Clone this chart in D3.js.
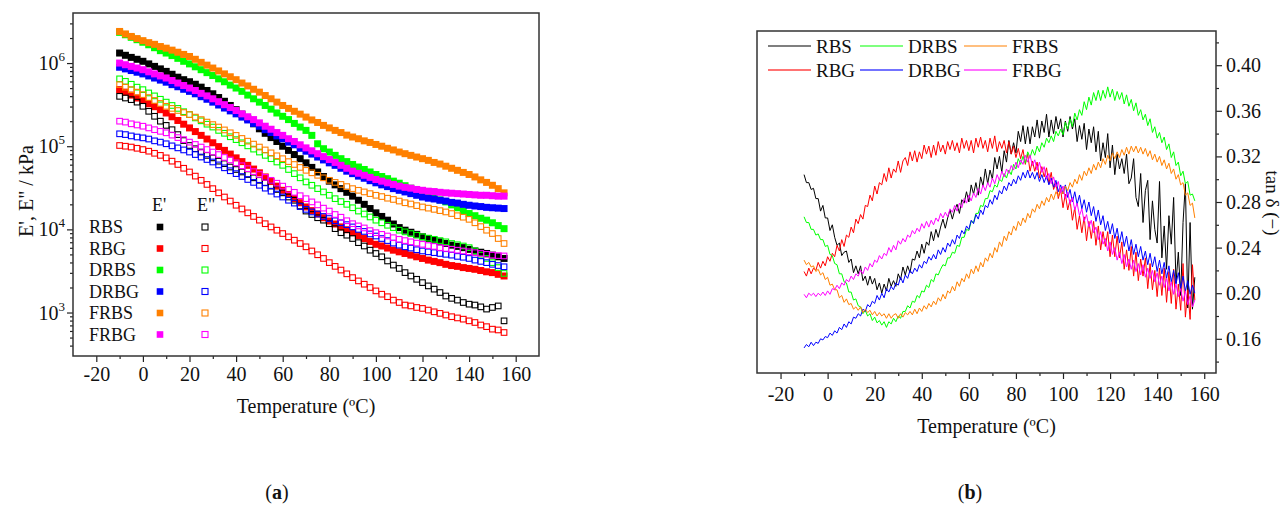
<!DOCTYPE html>
<html>
<head>
<meta charset="utf-8">
<script src="https://cdn.jsdelivr.net/npm/d3@7"></script>
<style>
body { margin: 0; background: #fff; }
svg text { font-family: "Liberation Serif", "Times New Roman", serif; fill: #111; }
</style>
</head>
<body>
<svg id="fig" width="1284" height="506"></svg>
<script>
// ---------- data: panel (a), storage / loss modulus in kPa ----------
const tempA = [-10,-7.5,-5,-2.5,0,2.5,5,7.5,10,12.5,15,17.5,20,22.5,25,27.5,30,32.5,35,37.5,40,42.5,45,47.5,50,52.5,55,57.5,60,62.5,65,67.5,70,72.5,75,77.5,80,82.5,85,87.5,90,92.5,95,97.5,100,102.5,105,107.5,110,112.5,115,117.5,120,122.5,125,127.5,130,132.5,135,137.5,140,142.5,145,147.5,150,152.5,155];

const RBS_E1 = [1.32e6,1.24e6,1.17e6,1.11e6,1.05e6,9.77e5,9.12e5,8.51e5,7.94e5,7.33e5,6.76e5,6.31e5,5.96e5,5.56e5,5.13e5,4.68e5,4.27e5,3.85e5,3.47e5,3.09e5,2.75e5,2.43e5,2.14e5,1.86e5,1.62e5,1.43e5,1.27e5,1.14e5,1.00e5,8.91e4,7.94e4,7.08e4,6.31e4,5.56e4,4.90e4,4.32e4,3.80e4,3.43e4,3.09e4,2.79e4,2.51e4,2.24e4,2.00e4,1.78e4,1.58e4,1.43e4,1.29e4,1.16e4,1.05e4,9.77e3,9.23e3,8.71e3,8.13e3,7.76e3,7.41e3,7.08e3,6.76e3,6.46e3,6.24e3,6.03e3,5.75e3,5.50e3,5.31e3,5.13e3,4.90e3,4.68e3,4.47e3];
const RBS_E2 = [3.98e5,3.80e5,3.63e5,3.39e5,3.02e5,2.63e5,2.29e5,2.00e5,1.78e5,1.58e5,1.38e5,1.17e5,1.02e5,9.33e4,8.51e4,7.76e4,7.24e4,6.61e4,6.17e4,5.62e4,5.25e4,4.90e4,4.57e4,4.17e4,3.89e4,3.63e4,3.31e4,3.02e4,2.75e4,2.45e4,2.24e4,1.91e4,1.66e4,1.51e4,1.38e4,1.29e4,1.17e4,1.02e4,9.12e3,8.51e3,7.76e3,6.92e3,6.31e3,5.62e3,5.13e3,4.68e3,4.17e3,3.72e3,3.39e3,3.02e3,2.75e3,2.51e3,2.29e3,2.09e3,1.91e3,1.74e3,1.58e3,1.48e3,1.41e3,1.32e3,1.26e3,1.23e3,1.17e3,1.10e3,1.15e3,1.20e3,794];
const RBG_E1 = [4.79e5,4.47e5,4.12e5,3.80e5,3.55e5,3.24e5,2.99e5,2.75e5,2.51e5,2.26e5,2.04e5,1.84e5,1.66e5,1.50e5,1.35e5,1.22e5,1.10e5,9.89e4,8.91e4,8.04e4,7.24e4,6.53e4,5.89e4,5.31e4,4.79e4,4.27e4,3.76e4,3.31e4,2.95e4,2.63e4,2.34e4,2.09e4,1.86e4,1.68e4,1.53e4,1.38e4,1.26e4,1.16e4,1.07e4,9.89e3,9.12e3,8.41e3,7.76e3,7.16e3,6.61e3,6.31e3,5.96e3,5.62e3,5.37e3,5.13e3,4.90e3,4.68e3,4.47e3,4.27e3,4.12e3,3.98e3,3.80e3,3.67e3,3.59e3,3.47e3,3.39e3,3.31e3,3.20e3,3.09e3,3.02e3,2.88e3,2.75e3];
const RBG_E2 = [1.02e5,1.00e5,9.77e4,9.44e4,9.12e4,8.71e4,8.22e4,7.76e4,7.24e4,6.61e4,6.03e4,5.43e4,4.90e4,4.37e4,3.89e4,3.47e4,3.09e4,2.75e4,2.45e4,2.19e4,1.95e4,1.76e4,1.58e4,1.43e4,1.29e4,1.17e4,1.07e4,9.77e3,8.91e3,8.13e3,7.41e3,6.76e3,6.17e3,5.50e3,4.95e3,4.47e3,3.98e3,3.59e3,3.24e3,2.92e3,2.63e3,2.40e3,2.19e3,2.00e3,1.82e3,1.66e3,1.55e3,1.41e3,1.32e3,1.23e3,1.20e3,1.15e3,1.12e3,1.07e3,1.02e3,977,933,891,861,832,794,759,708,676,631,617,575];
const DRBS_E1 = [2.34e6,2.19e6,2.04e6,1.91e6,1.78e6,1.66e6,1.53e6,1.41e6,1.32e6,1.23e6,1.14e6,1.05e6,9.77e5,9.02e5,8.32e5,7.67e5,7.08e5,6.46e5,5.96e5,5.43e5,5.01e5,4.57e5,4.12e5,3.72e5,3.39e5,3.09e5,2.79e5,2.51e5,2.29e5,2.09e5,1.88e5,1.70e5,1.55e5,1.35e5,1.07e5,9.33e4,8.51e4,7.76e4,7.08e4,6.53e4,6.03e4,5.62e4,5.25e4,4.90e4,4.57e4,4.32e4,4.07e4,3.80e4,3.59e4,3.35e4,3.13e4,2.95e4,2.75e4,2.57e4,2.43e4,2.26e4,2.14e4,1.97e4,1.82e4,1.68e4,1.55e4,1.46e4,1.36e4,1.29e4,1.20e4,1.11e4,1.02e4];
const DRBS_E2 = [6.46e5,6.03e5,5.56e5,5.13e5,4.79e5,4.37e5,4.03e5,3.67e5,3.39e5,3.09e5,2.85e5,2.60e5,2.40e5,2.19e5,2.02e5,1.84e5,1.70e5,1.55e5,1.43e5,1.30e5,1.20e5,1.10e5,1.01e5,9.23e4,8.51e4,7.76e4,7.08e4,6.46e4,5.89e4,5.25e4,4.68e4,4.17e4,3.72e4,3.39e4,3.09e4,2.82e4,2.57e4,2.34e4,2.16e4,2.00e4,1.82e4,1.66e4,1.53e4,1.41e4,1.29e4,1.20e4,1.12e4,1.05e4,9.77e3,9.33e3,8.91e3,8.51e3,8.13e3,7.85e3,7.59e3,7.33e3,7.08e3,6.76e3,6.53e3,6.31e3,6.03e3,5.50e3,4.90e3,4.47e3,3.98e3,3.47e3,2.95e3];
const DRBG_E1 = [8.91e5,8.51e5,8.13e5,7.76e5,7.41e5,7.00e5,6.61e5,6.24e5,5.89e5,5.50e5,5.19e5,4.84e5,4.57e5,4.27e5,3.94e5,3.67e5,3.39e5,3.13e5,2.88e5,2.66e5,2.45e5,2.24e5,2.07e5,1.88e5,1.74e5,1.58e5,1.46e5,1.33e5,1.23e5,1.12e5,1.04e5,9.44e4,8.71e4,8.04e4,7.41e4,6.84e4,6.31e4,5.89e4,5.43e4,5.01e4,4.68e4,4.37e4,4.12e4,3.85e4,3.63e4,3.43e4,3.27e4,3.09e4,2.95e4,2.82e4,2.69e4,2.57e4,2.45e4,2.37e4,2.32e4,2.24e4,2.19e4,2.11e4,2.07e4,2.00e4,1.95e4,1.91e4,1.88e4,1.84e4,1.82e4,1.80e4,1.78e4];
const DRBG_E2 = [1.41e5,1.38e5,1.33e5,1.29e5,1.26e5,1.22e5,1.16e5,1.12e5,1.07e5,1.01e5,9.55e4,9.02e4,8.51e4,7.94e4,7.41e4,6.92e4,6.46e4,5.96e4,5.50e4,5.07e4,4.68e4,4.32e4,3.98e4,3.67e4,3.39e4,3.13e4,2.88e4,2.66e4,2.45e4,2.24e4,2.07e4,1.88e4,1.74e4,1.62e4,1.53e4,1.43e4,1.35e4,1.27e4,1.20e4,1.14e4,1.07e4,1.00e4,9.44e3,8.81e3,8.32e3,7.76e3,7.33e3,6.84e3,6.46e3,6.17e3,5.96e3,5.69e3,5.50e3,5.37e3,5.25e3,5.13e3,5.01e3,4.90e3,4.73e3,4.62e3,4.47e3,4.27e3,4.12e3,3.98e3,3.80e3,3.67e3,3.55e3];
const FRBS_E1 = [2.40e6,2.24e6,2.09e6,1.97e6,1.86e6,1.76e6,1.68e6,1.58e6,1.51e6,1.43e6,1.35e6,1.27e6,1.20e6,1.11e6,1.02e6,9.44e5,8.71e5,8.04e5,7.41e5,6.84e5,6.31e5,5.75e5,5.31e5,4.84e5,4.47e5,4.07e5,3.72e5,3.39e5,3.09e5,2.85e5,2.63e5,2.43e5,2.24e5,2.07e5,1.93e5,1.78e5,1.66e5,1.55e5,1.46e5,1.36e5,1.29e5,1.23e5,1.16e5,1.11e5,1.05e5,1.00e5,9.44e4,9.02e4,8.51e4,8.13e4,7.76e4,7.41e4,7.08e4,6.76e4,6.38e4,6.10e4,5.75e4,5.43e4,5.13e4,4.84e4,4.57e4,4.27e4,3.94e4,3.67e4,3.39e4,3.09e4,2.75e4];
const FRBS_E2 = [5.50e5,5.13e5,4.79e5,4.47e5,4.17e5,3.85e5,3.55e5,3.27e5,3.02e5,2.85e5,2.69e5,2.54e5,2.40e5,2.24e5,2.09e5,1.95e5,1.82e5,1.70e5,1.57e5,1.45e5,1.35e5,1.24e5,1.15e5,1.06e5,9.77e4,9.02e4,8.32e4,7.67e4,7.08e4,6.53e4,6.03e4,5.56e4,5.13e4,4.79e4,4.47e4,4.17e4,3.89e4,3.67e4,3.47e4,3.27e4,3.09e4,2.95e4,2.82e4,2.69e4,2.57e4,2.48e4,2.37e4,2.29e4,2.19e4,2.09e4,2.02e4,1.93e4,1.86e4,1.80e4,1.74e4,1.68e4,1.62e4,1.55e4,1.46e4,1.40e4,1.32e4,1.20e4,1.08e4,9.77e3,8.91e3,7.76e3,6.76e3];
const FRBG_E1 = [1.00e6,9.55e5,9.12e5,8.71e5,8.32e5,7.85e5,7.41e5,7.00e5,6.61e5,6.17e5,5.75e5,5.37e5,5.01e5,4.68e5,4.32e5,4.03e5,3.72e5,3.43e5,3.16e5,2.92e5,2.69e5,2.45e5,2.26e5,2.09e5,1.91e5,1.74e5,1.60e5,1.46e5,1.35e5,1.23e5,1.14e5,1.04e5,9.55e4,8.81e4,8.13e4,7.50e4,6.92e4,6.38e4,5.89e4,5.43e4,5.01e4,4.73e4,4.47e4,4.22e4,3.98e4,3.80e4,3.63e4,3.47e4,3.31e4,3.20e4,3.13e4,3.02e4,2.95e4,2.88e4,2.85e4,2.79e4,2.75e4,2.72e4,2.69e4,2.66e4,2.63e4,2.60e4,2.57e4,2.57e4,2.54e4,2.51e4,2.51e4];
const FRBG_E2 = [2.00e5,1.95e5,1.86e5,1.80e5,1.74e5,1.66e5,1.58e5,1.51e5,1.45e5,1.36e5,1.27e5,1.20e5,1.12e5,1.05e5,9.77e4,9.12e4,8.51e4,7.94e4,7.33e4,6.84e4,6.31e4,5.82e4,5.37e4,4.95e4,4.57e4,4.22e4,3.89e4,3.59e4,3.31e4,3.02e4,2.79e4,2.54e4,2.34e4,2.14e4,1.97e4,1.80e4,1.66e4,1.51e4,1.40e4,1.27e4,1.17e4,1.10e4,1.04e4,9.66e3,9.12e3,8.71e3,8.32e3,7.94e3,7.59e3,7.33e3,7.08e3,6.84e3,6.61e3,6.38e3,6.24e3,6.03e3,5.89e3,5.75e3,5.62e3,5.50e3,5.37e3,5.25e3,5.13e3,5.01e3,4.90e3,4.84e3,4.79e3];

// ---------- data: panel (b), tan delta ----------
const tempB = [-10,-9,-8,-7,-6,-5,-4,-3,-2,-1,0,1,2,3,4,5,6,7,8,9,10,11,12,13,14,15,16,17,18,19,20,21,22,23,24,25,26,27,28,29,30,31,32,33,34,35,36,37,38,39,40,41,42,43,44,45,46,47,48,49,50,51,52,53,54,55,56,57,58,59,60,61,62,63,64,65,66,67,68,69,70,71,72,73,74,75,76,77,78,79,80,81,82,83,84,85,86,87,88,89,90,91,92,93,94,95,96,97,98,99,100,101,102,103,104,105,106,107,108,109,110,111,112,113,114,115,116,117,118,119,120,121,122,123,124,125,126,127,128,129,130,131,132,133,134,135,136,137,138,139,140,141,142,143,144,145,146,147,148,149,150,151,152,153,154,155,156];

const tanRBS = [.304,.297,.297,.291,.292,.283,.283,.272,.277,.266,.266,.255,.260,.249,.242,.244,.233,.236,.237,.227,.230,.218,.224,.217,.224,.211,.215,.207,.215,.208,.213,.203,.209,.200,.208,.202,.213,.206,.211,.206,.217,.212,.223,.216,.224,.218,.230,.229,.237,.231,.243,.235,.245,.242,.254,.246,.256,.249,.258,.265,.257,.266,.273,.265,.273,.278,.270,.282,.279,.289,.280,.295,.287,.297,.286,.302,.294,.309,.296,.308,.300,.319,.309,.320,.306,.325,.315,.334,.322,.332,.323,.342,.333,.347,.331,.346,.331,.346,.337,.352,.336,.351,.341,.357,.337,.352,.340,.355,.344,.353,.337,.351,.342,.355,.344,.353,.333,.347,.335,.349,.326,.344,.332,.346,.324,.342,.316,.332,.319,.340,.310,.330,.304,.322,.309,.318,.305,.322,.296,.301,.318,.284,.276,.305,.262,.290,.299,.247,.281,.256,.244,.298,.231,.259,.221,.268,.243,.284,.209,.236,.198,.262,.296,.187,.262,.186,.214];
const tanRBG = [.219,.215,.222,.217,.222,.220,.227,.222,.228,.224,.232,.228,.235,.232,.242,.237,.247,.241,.251,.249,.258,.253,.265,.261,.269,.265,.277,.276,.286,.281,.294,.287,.297,.295,.305,.298,.310,.301,.309,.306,.316,.306,.316,.319,.312,.324,.316,.325,.315,.324,.318,.330,.322,.329,.319,.330,.321,.333,.324,.330,.322,.333,.326,.334,.325,.332,.323,.336,.327,.334,.325,.334,.323,.336,.328,.337,.327,.334,.324,.336,.327,.338,.324,.333,.327,.334,.323,.333,.322,.329,.319,.327,.318,.326,.313,.322,.307,.316,.307,.315,.301,.311,.302,.310,.296,.306,.291,.297,.283,.291,.275,.287,.273,.282,.264,.275,.256,.268,.253,.267,.246,.263,.248,.263,.242,.259,.238,.254,.241,.254,.232,.251,.232,.250,.231,.245,.221,.238,.220,.241,.215,.236,.211,.230,.215,.231,.204,.226,.203,.220,.197,.222,.198,.222,.192,.219,.191,.221,.186,.208,.185,.226,.179,.203,.177,.225,.194];
const tanDRBS = [.267,.262,.262,.256,.256,.251,.252,.247,.247,.241,.242,.234,.233,.226,.225,.217,.217,.210,.209,.201,.201,.194,.195,.189,.188,.182,.185,.180,.182,.176,.179,.174,.176,.172,.175,.170,.175,.173,.178,.175,.180,.178,.184,.184,.189,.187,.193,.192,.198,.196,.202,.201,.207,.205,.212,.210,.217,.216,.221,.225,.224,.231,.231,.236,.235,.242,.241,.249,.249,.256,.255,.263,.262,.270,.270,.277,.276,.283,.283,.290,.289,.295,.293,.300,.298,.305,.301,.308,.304,.313,.309,.318,.313,.320,.314,.324,.319,.326,.321,.329,.324,.332,.328,.336,.332,.338,.333,.342,.338,.344,.339,.350,.344,.353,.346,.358,.352,.361,.356,.368,.361,.372,.365,.376,.369,.378,.369,.378,.371,.381,.372,.379,.369,.377,.370,.376,.366,.374,.364,.370,.360,.367,.356,.361,.352,.357,.347,.353,.341,.346,.336,.341,.332,.337,.326,.331,.319,.324,.312,.315,.303,.307,.296,.298,.286,.287,.281];
const tanDRBG = [.152,.155,.153,.157,.154,.157,.156,.160,.159,.162,.161,.165,.163,.167,.165,.170,.168,.173,.170,.175,.173,.179,.178,.182,.180,.186,.184,.190,.188,.193,.191,.198,.194,.200,.196,.204,.201,.206,.203,.209,.207,.214,.209,.216,.213,.220,.217,.222,.219,.225,.222,.228,.226,.232,.229,.234,.230,.238,.234,.240,.236,.244,.241,.247,.243,.251,.248,.255,.252,.259,.256,.264,.261,.269,.265,.273,.269,.277,.275,.282,.278,.286,.282,.290,.287,.294,.290,.297,.294,.300,.296,.303,.299,.306,.301,.308,.301,.306,.300,.306,.298,.304,.297,.303,.295,.301,.293,.299,.289,.295,.287,.295,.284,.291,.280,.289,.278,.286,.274,.282,.271,.280,.268,.276,.263,.273,.260,.268,.255,.263,.252,.261,.248,.257,.244,.254,.241,.250,.237,.247,.234,.243,.232,.241,.229,.237,.225,.235,.223,.232,.219,.229,.217,.227,.213,.224,.210,.220,.208,.218,.204,.215,.202,.211,.199,.207,.200];
const tanFRBS = [.229,.225,.227,.223,.224,.219,.221,.216,.218,.212,.214,.207,.208,.203,.203,.196,.198,.192,.195,.190,.191,.186,.188,.185,.188,.183,.186,.183,.185,.181,.184,.180,.183,.180,.182,.178,.182,.178,.181,.182,.178,.182,.179,.183,.181,.184,.181,.186,.182,.187,.184,.189,.186,.191,.188,.193,.190,.196,.193,.199,.195,.202,.200,.206,.202,.210,.206,.213,.210,.217,.213,.221,.217,.224,.219,.227,.223,.231,.228,.235,.231,.240,.236,.245,.241,.250,.246,.254,.251,.259,.255,.263,.259,.266,.262,.270,.266,.274,.271,.278,.274,.281,.277,.284,.280,.287,.282,.289,.285,.292,.287,.294,.290,.297,.293,.300,.296,.304,.299,.307,.303,.310,.305,.313,.308,.315,.310,.318,.313,.321,.316,.323,.318,.324,.319,.326,.321,.328,.322,.329,.324,.329,.323,.328,.322,.327,.320,.325,.317,.322,.315,.320,.312,.317,.309,.314,.305,.309,.300,.304,.295,.297,.286,.288,.277,.279,.266];
const tanFRBG = [.199,.196,.200,.198,.200,.197,.200,.198,.201,.198,.202,.199,.204,.203,.207,.204,.209,.207,.212,.210,.215,.212,.217,.215,.220,.217,.223,.220,.226,.223,.229,.227,.233,.230,.235,.233,.240,.236,.242,.238,.246,.243,.248,.245,.251,.249,.255,.252,.257,.254,.261,.257,.263,.258,.264,.260,.266,.263,.270,.266,.271,.267,.274,.271,.277,.272,.279,.275,.283,.279,.286,.281,.288,.284,.292,.287,.295,.290,.297,.293,.301,.296,.304,.299,.307,.302,.309,.305,.312,.308,.315,.310,.317,.313,.321,.315,.321,.312,.317,.308,.315,.306,.311,.300,.305,.296,.302,.293,.298,.288,.294,.283,.289,.278,.284,.273,.279,.268,.274,.263,.269,.258,.264,.253,.258,.247,.254,.243,.248,.237,.245,.234,.240,.229,.236,.226,.234,.223,.230,.221,.229,.219,.226,.216,.225,.214,.222,.213,.220,.210,.218,.207,.215,.205,.213,.202,.210,.199,.208,.197,.204,.193,.202,.190,.198,.188,.194];

// ---------- categories, colours, ticks ----------
const samples = ['RBS', 'RBG', 'DRBS', 'DRBG', 'FRBS', 'FRBG'];
const colors = ['#000000', '#ff0000', '#00ff00', '#0000ff', '#ff8000', '#ff00ff'];
const xTickVals = [-20, 0, 20, 40, 60, 80, 100, 120, 140, 160];
const xMinorVals = [-10, 10, 30, 50, 70, 90, 110, 130, 150];
const decades = [1e3, 1e4, 1e5, 1e6];
const tanTickVals = [0.16, 0.20, 0.24, 0.28, 0.32, 0.36, 0.40];
const tanMinorVals = [0.14, 0.18, 0.22, 0.26, 0.30, 0.34, 0.38, 0.42];

let storage = [RBS_E1, RBG_E1, DRBS_E1, DRBG_E1, FRBS_E1, FRBG_E1];
let loss = [RBS_E2, RBG_E2, DRBS_E2, DRBG_E2, FRBS_E2, FRBG_E2];
let tanSeries = [tanRBS, tanRBG, tanDRBS, tanDRBG, tanFRBS, tanFRBG];

const FONT = '"Liberation Serif", "Times New Roman", serif';
let svg = d3.select('#fig');

function pairs(vals, temps) {
    return vals.map(function(v, i) { return {t: temps[i], v: v}; })
               .filter(function(d) { return d.t !== undefined; });
}

function styleAxis(g, size) {
    g.attr('font-family', FONT).attr('font-size', size).attr('color', '#222');
    g.select('.domain').remove();
    g.selectAll('line').attr('stroke-width', 1.2);
}

// ================= panel (a) =================
const boxA = {left: 73, top: 13, right: 539, bottom: 356};

let xA = d3.scaleLinear().domain([-30, 170]).range([boxA.left, boxA.right]);
let yA = d3.scaleLog().domain([300, 4e6]).range([boxA.bottom, boxA.top]);

//-----X-------
svg.append('g').attr('transform', 'translate(0,' + boxA.bottom + ')')
    .call(d3.axisBottom(xA).tickValues(xTickVals).tickSize(6).tickPadding(5).tickFormat(function(d) { return String(d); }))
    .call(styleAxis, 20);
svg.append('g').attr('transform', 'translate(0,' + boxA.bottom + ')')
    .call(d3.axisBottom(xA).tickValues(xMinorVals).tickSize(3).tickFormat(''))
    .call(styleAxis, 20);

//-----Y (log)-------
let minorLog = [];
[100, 1e3, 1e4, 1e5, 1e6].forEach(function(dec) {
    for (let m = 2; m <= 9; m++) {
        let v = dec * m;
        if (v > 300 && v < 4e6) minorLog.push(v);
    }
});
svg.append('g').attr('transform', 'translate(' + boxA.left + ',0)')
    .call(d3.axisLeft(yA).tickValues(decades).tickSize(6).tickFormat(''))
    .call(styleAxis, 20);
svg.append('g').attr('transform', 'translate(' + boxA.left + ',0)')
    .call(d3.axisLeft(yA).tickValues(minorLog).tickSize(3).tickFormat(''))
    .call(styleAxis, 20);

decades.forEach(function(d) {
    let t = svg.append('text')
        .attr('x', boxA.left - 8).attr('y', yA(d) + 7)
        .attr('text-anchor', 'end').attr('font-size', 20);
    t.append('tspan').text('10');
    t.append('tspan').attr('dy', -9).attr('font-size', 13).text(Math.round(Math.log10(d)));
});

svg.append('rect')
    .attr('x', boxA.left).attr('y', boxA.top)
    .attr('width', boxA.right - boxA.left).attr('height', boxA.bottom - boxA.top)
    .attr('fill', 'none').attr('stroke', '#333').attr('stroke-width', 1.5);

//-----markers-------
storage.forEach(function(arr, k) {
    svg.append('g').selectAll('rect')
        .data(pairs(arr, tempA))
        .enter().append('rect')
            .attr('x', function(d) { return xA(d.t) - 3.5; })
            .attr('y', function(d) { return yA(d.v) - 3.5; })
            .attr('width', 7).attr('height', 7)
            .attr('fill', colors[k]);
});
loss.forEach(function(arr, k) {
    svg.append('g').selectAll('rect')
        .data(pairs(arr, tempA))
        .enter().append('rect')
            .attr('x', function(d) { return xA(d.t) - 2.8; })
            .attr('y', function(d) { return yA(d.v) - 2.8; })
            .attr('width', 5.6).attr('height', 5.6)
            .attr('fill', 'none').attr('stroke', colors[k]).attr('stroke-width', 1.1);
});

//-----legend (a)-------
svg.append('text').attr('x', 152).attr('y', 211).attr('font-size', 18).text("E'");
svg.append('text').attr('x', 197).attr('y', 211).attr('font-size', 18).text('E"');
samples.forEach(function(name, k) {
    let cy = 227 + k * 21.5;
    svg.append('text').attr('x', 89).attr('y', cy + 6).attr('font-size', 18).text(name);
    svg.append('rect').attr('x', 160 - 3.3).attr('y', cy - 3.3).attr('width', 6.6).attr('height', 6.6)
        .attr('fill', colors[k]);
    svg.append('rect').attr('x', 205 - 3).attr('y', cy - 3).attr('width', 6).attr('height', 6)
        .attr('fill', 'none').attr('stroke', colors[k]).attr('stroke-width', 1.1);
});

//-----titles (a)-------
svg.append('text').attr('transform', 'translate(33,191) rotate(-90)')
    .attr('text-anchor', 'middle').attr('font-size', 20).text('E\', E" / kPa');
svg.append('text').attr('x', (boxA.left + boxA.right) / 2).attr('y', 413)
    .attr('text-anchor', 'middle').attr('font-size', 20).text('Temperature (ºC)');

// ================= panel (b) =================
const boxB = {left: 757, top: 31, right: 1216, bottom: 373};

let xB = d3.scaleLinear().domain([-30, 165]).range([boxB.left, boxB.right]);
let yB = d3.scaleLinear().domain([0.13, 0.43]).range([boxB.bottom, boxB.top]);

//-----X-------
svg.append('g').attr('transform', 'translate(0,' + boxB.bottom + ')')
    .call(d3.axisBottom(xB).tickValues(xTickVals).tickSize(6).tickPadding(8).tickFormat(function(d) { return String(d); }))
    .call(styleAxis, 20);
svg.append('g').attr('transform', 'translate(0,' + boxB.bottom + ')')
    .call(d3.axisBottom(xB).tickValues(xMinorVals).tickSize(3).tickFormat(''))
    .call(styleAxis, 20);

//-----Y (right)-------
svg.append('g').attr('transform', 'translate(' + boxB.right + ',0)')
    .call(d3.axisRight(yB).tickValues(tanTickVals).tickSize(6).tickPadding(4).tickFormat(d3.format('.2f')))
    .call(styleAxis, 20);
svg.append('g').attr('transform', 'translate(' + boxB.right + ',0)')
    .call(d3.axisRight(yB).tickValues(tanMinorVals).tickSize(3).tickFormat(''))
    .call(styleAxis, 20);

svg.append('rect')
    .attr('x', boxB.left).attr('y', boxB.top)
    .attr('width', boxB.right - boxB.left).attr('height', boxB.bottom - boxB.top)
    .attr('fill', 'none').attr('stroke', '#333').attr('stroke-width', 1.5);

//-----lines-------
let line = d3.line()
    .x(function(d) { return xB(d.t); })
    .y(function(d) { return yB(d.v); });

tanSeries.forEach(function(arr, k) {
    svg.append('path')
        .datum(pairs(arr, tempB))
        .attr('d', line)
        .attr('fill', 'none')
        .attr('stroke', colors[k])
        .attr('stroke-width', 1)
        .attr('stroke-linejoin', 'round');
});

//-----legend (b)-------
const legCols = [768, 860, 964];
samples.forEach(function(name, k) {
    let row = k % 2, col = Math.floor(k / 2);
    let cy = 46 + row * 24;
    let x0 = legCols[col];
    svg.append('line').attr('x1', x0).attr('x2', x0 + 43).attr('y1', cy).attr('y2', cy)
        .attr('stroke', colors[k])
        .attr('stroke-width', row ? 2 : 1.2)
        .attr('stroke-opacity', row ? 0.55 : 1);
    svg.append('text').attr('x', x0 + 48).attr('y', cy + 6.5).attr('font-size', 19).text(name);
});

//-----titles (b)-------
svg.append('text').attr('transform', 'translate(1266,203) rotate(90)')
    .attr('text-anchor', 'middle').attr('font-size', 19).text('tan δ (−)');
svg.append('text').attr('x', (boxB.left + boxB.right) / 2).attr('y', 433)
    .attr('text-anchor', 'middle').attr('font-size', 20).text('Temperature (ºC)');

//-----panel captions-------
[['a', 277], ['b', 970]].forEach(function(c) {
    let t = svg.append('text').attr('x', c[1]).attr('y', 499)
        .attr('text-anchor', 'middle').attr('font-size', 20);
    t.append('tspan').text('(');
    t.append('tspan').attr('font-weight', 'bold').text(c[0]);
    t.append('tspan').text(')');
});
</script>
</body>
</html>
